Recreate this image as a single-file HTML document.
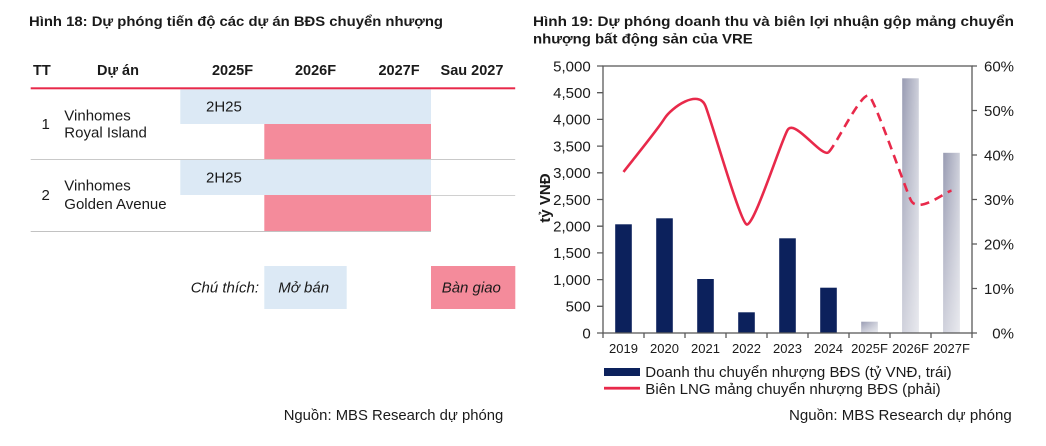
<!DOCTYPE html>
<html><head><meta charset="utf-8"><style>
html,body{margin:0;padding:0;background:#fff;}
svg{display:block;}
text{font-family:"Liberation Sans",Arial,sans-serif;fill:#1a1a1a;}
</style></head><body>
<svg width="1046" height="446" viewBox="0 0 1046 446" xmlns="http://www.w3.org/2000/svg">
<defs>
<linearGradient id="gh" x1="0" y1="0" x2="1" y2="0">
<stop offset="0" stop-color="#989bb2"/><stop offset="1" stop-color="#cdcfda"/>
</linearGradient>
<linearGradient id="gv" x1="0" y1="0" x2="0" y2="1">
<stop offset="0" stop-color="#fff" stop-opacity="0"/><stop offset="1" stop-color="#fff" stop-opacity="0.55"/>
</linearGradient>
</defs>

<!-- LEFT: Hình 18 -->
<text x="29" y="26" font-size="14" font-weight="bold" textLength="414" lengthAdjust="spacingAndGlyphs">Hình 18: Dự phóng tiến độ các dự án BĐS chuyển nhượng</text>

<g font-size="14.5" font-weight="bold">
<text x="33" y="75">TT</text>
<text x="97" y="75">Dự án</text>
<text x="232.5" y="75" text-anchor="middle">2025F</text>
<text x="315.5" y="75" text-anchor="middle">2026F</text>
<text x="399" y="75" text-anchor="middle">2027F</text>
<text x="472" y="75" text-anchor="middle">Sau 2027</text>
</g>

<rect x="180.3" y="89.3" width="250.7" height="34.7" fill="#dce9f5"/>
<rect x="264.3" y="124" width="166.7" height="35.3" fill="#f48b9b"/>
<rect x="180.3" y="160" width="250.7" height="35" fill="#dce9f5"/>
<rect x="264.3" y="195" width="166.7" height="36" fill="#f48b9b"/>

<rect x="30.7" y="87.3" width="484.5" height="2" fill="#e8294a"/>
<rect x="30.7" y="159" width="484.5" height="1" fill="#c9c9c9"/>
<rect x="431" y="195" width="84.2" height="1" fill="#d0d0d0"/>
<rect x="30.7" y="231" width="400.3" height="1" fill="#c2c2c2"/>

<g font-size="15">
<text x="206" y="111.7">2H25</text>
<text x="206" y="182.7">2H25</text>
<text x="41.5" y="129">1</text>
<text x="64.3" y="120.7">Vinhomes</text>
<text x="64.3" y="137.3">Royal Island</text>
<text x="41.5" y="200">2</text>
<text x="64.3" y="190.7">Vinhomes</text>
<text x="64.3" y="209">Golden Avenue</text>
</g>

<rect x="264.3" y="266" width="82.4" height="43" fill="#dce9f5"/>
<rect x="431" y="266" width="84.3" height="43" fill="#f48b9b"/>
<g font-size="15" font-style="italic">
<text x="190.7" y="292.7">Chú thích:</text>
<text x="278.3" y="292.7">Mở bán</text>
<text x="441.7" y="292.7">Bàn giao</text>
</g>

<text x="283.7" y="420" font-size="15" textLength="219.6" lengthAdjust="spacingAndGlyphs">Nguồn: MBS Research dự phóng</text>

<!-- RIGHT: Hình 19 -->
<text x="533" y="26" font-size="14" font-weight="bold" textLength="481" lengthAdjust="spacingAndGlyphs">Hình 19: Dự phóng doanh thu và biên lợi nhuận gộp mảng chuyển</text>
<text x="533" y="43.3" font-size="14" font-weight="bold" textLength="219.7" lengthAdjust="spacingAndGlyphs">nhượng bất động sản của VRE</text>

<!-- bars -->
<g fill="#0c215c">
<rect x="615.2" y="224.3" width="16.6" height="108.7"/>
<rect x="656.2" y="218.3" width="16.6" height="114.7"/>
<rect x="697.2" y="279" width="16.6" height="54"/>
<rect x="738.2" y="312.3" width="16.6" height="20.7"/>
<rect x="779.2" y="238.3" width="16.6" height="94.7"/>
<rect x="820.2" y="287.7" width="16.6" height="45.3"/>
</g>
<g>
<rect x="861.2" y="321.7" width="16.6" height="11.3" fill="url(#gh)"/>
<rect x="861.2" y="321.7" width="16.6" height="11.3" fill="url(#gv)"/>
<rect x="902.2" y="78.3" width="16.6" height="254.7" fill="url(#gh)"/>
<rect x="902.2" y="78.3" width="16.6" height="254.7" fill="url(#gv)"/>
<rect x="943.2" y="152.8" width="16.6" height="180.2" fill="url(#gh)"/>
<rect x="943.2" y="152.8" width="16.6" height="180.2" fill="url(#gv)"/>
</g>

<!-- axes -->
<g stroke="#5a5a5a" stroke-width="1.3" fill="none">
<rect x="603" y="66" width="369" height="267"/>
<path d="M597 66H603M597 92.7H603M597 119.4H603M597 146.1H603M597 172.8H603M597 199.5H603M597 226.2H603M597 252.9H603M597 279.6H603M597 306.3H603M597 333H603"/>
<path d="M972 66H977M972 110.5H977M972 155H977M972 199.5H977M972 244H977M972 288.5H977M972 333H977"/>
<path d="M603 333V338M644 333V338M685 333V338M726 333V338M767 333V338M808 333V338M849 333V338M890 333V338M931 333V338M972 333V338"/>
</g>

<!-- line -->
<g fill="none" stroke="#e8294a" stroke-width="2.6" stroke-linecap="butt">
<path d="M623.5,171.9 C630.33,163.0 657.67,129.48 664.5,118.5 C671.33,107.53 698.67,88.4 705.5,106.05 C712.33,123.7 739.67,220.39 746.5,224.4 C753.33,228.41 780.67,142.12 787.5,130.1 C794.33,118.08 821.67,157.93 828.5,152.3"/>
<path stroke-dasharray="9,6" d="M828.5,152.3 C835.33,146.67 862.67,88.43 869.5,96.3 C876.33,104.17 903.67,183.78 910.5,199.5 C917.33,215.22 944.67,192.08 951.5,190.6"/>
</g>

<!-- left ticks labels -->
<g font-size="15" text-anchor="end">
<text x="590.7" y="71.3">5,000</text>
<text x="590.7" y="98">4,500</text>
<text x="590.7" y="124.7">4,000</text>
<text x="590.7" y="151.4">3,500</text>
<text x="590.7" y="178.1">3,000</text>
<text x="590.7" y="204.8">2,500</text>
<text x="590.7" y="231.5">2,000</text>
<text x="590.7" y="258.2">1,500</text>
<text x="590.7" y="284.9">1,000</text>
<text x="590.7" y="311.6">500</text>
<text x="590.7" y="338.3">0</text>
</g>
<g font-size="15">
<text x="984" y="71.3">60%</text>
<text x="984" y="115.8">50%</text>
<text x="984" y="160.3">40%</text>
<text x="984" y="204.8">30%</text>
<text x="984" y="249.3">20%</text>
<text x="984" y="293.8">10%</text>
<text x="992.3" y="338.3">0%</text>
</g>
<text transform="translate(550,198) rotate(-90)" font-size="15" font-weight="bold" text-anchor="middle">tỷ VNĐ</text>

<g font-size="13" text-anchor="middle">
<text x="623.5" y="353">2019</text>
<text x="664.5" y="353">2020</text>
<text x="705.5" y="353">2021</text>
<text x="746.5" y="353">2022</text>
<text x="787.5" y="353">2023</text>
<text x="828.5" y="353">2024</text>
<text x="869.5" y="353">2025F</text>
<text x="910.5" y="353">2026F</text>
<text x="951.5" y="353">2027F</text>
</g>

<!-- legend -->
<rect x="604" y="368" width="36" height="8" fill="#0c215c"/>
<text x="645.3" y="377" font-size="15" textLength="306.4" lengthAdjust="spacingAndGlyphs">Doanh thu chuyển nhượng BĐS (tỷ VNĐ, trái)</text>
<rect x="604" y="386.8" width="36" height="2.8" fill="#e8294a"/>
<text x="645.3" y="394" font-size="15" textLength="295.4" lengthAdjust="spacingAndGlyphs">Biên LNG mảng chuyển nhượng BĐS (phải)</text>

<text x="789" y="420" font-size="15" textLength="222.7" lengthAdjust="spacingAndGlyphs">Nguồn: MBS Research dự phóng</text>
</svg>
</body></html>
